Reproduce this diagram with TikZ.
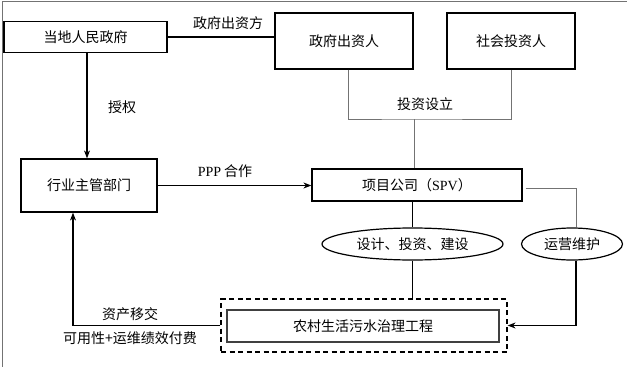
\documentclass[tikz,border=0pt]{standalone}
\usepackage{fontspec}
\setmainfont{Liberation Serif}
\newfontfamily\cjk{Noto Sans CJK SC}
\usetikzlibrary{arrows.meta,calc,shapes.geometric}
\begin{document}
\begin{tikzpicture}[x=1pt,y=-1pt,
  every node/.style={font=\cjk\fontsize{14pt}{16pt}\selectfont, inner sep=0pt},
  box/.style={draw=black, line width=1.2pt, rectangle},
  blk/.style={draw=black, line width=1.2pt},
  gry/.style={draw=black!55, line width=0.9pt},
  arr/.style={-{Stealth[length=8pt,width=6pt]}}]
\useasboundingbox (0,0) rectangle (627,367);
% frame remnants
\draw[black!55, line width=1pt] (2,367) -- (2,1.5) -- (627,1.5);
% nodes
\node[box, minimum width=163pt, minimum height=31pt] (gov) at (85.5,37) {当地人民政府};
\node[box, minimum width=138pt, minimum height=56pt] (govinv) at (344,41) {政府出资人};
\node[box, minimum width=128pt, minimum height=56pt] (social) at (511,41) {社会投资人};
\node[box, minimum width=136pt, minimum height=53pt] (dept) at (89,185.5) {行业主管部门};
\node[box, minimum width=210pt, minimum height=32pt] (spv) at (417,185) {项目公司（{\rmfamily SPV}）};
\node[draw=black, line width=1.2pt, ellipse, minimum width=181pt, minimum height=32pt] (e1) at (412.5,244) {设计、投资、建设};
\node[draw=black, line width=1.2pt, ellipse, minimum width=101pt, minimum height=32pt] (e2) at (572,244) {运营维护};
\node[draw=black, line width=1.2pt, dash pattern=on 5pt off 3.5pt, minimum width=286pt, minimum height=53pt] (dbox) at (364,325.5) {};
\node[draw=black!75, line width=1.1pt, minimum width=272pt, minimum height=32pt] (proj) at (363,326) {农村生活污水治理工程};
% labels
\node (l1) at (228,23) {政府出资方};
\node (l2) at (425,104) {投资设立};
\node (l3) at (122,107) {授权};
\node (l4) at (225,171) {{\rmfamily PPP} 合作};
\node (l5) at (130,314) {资产移交};
\node (l6) at (130,338) {可用性+运维绩效付费};
% connectors
\draw[blk] (gov.east) -- (gov.east -| govinv.west);
\coordinate (j) at (414,119);
\draw[gry] ([xshift=4pt]govinv.south) |- (j) -| (social.south);
\draw[gry] (j) -- (j |- spv.north);
\draw[blk, arr] (gov.south -| 87,0) -- (dept.north -| 87,0);
\draw[blk, arr] (dept.east) -- (dept.east -| spv.west);
\draw[gry] ([xshift=3pt,yshift=-3pt]spv.east) -| (e2.north -| 576,0);
\draw[blk] (spv.south -| e1.north) -- (e1.north);
\draw[blk] (e1.south) -- (e1.south |- dbox.north);
\draw[blk, arr] (e2.south -| 576,0) |- (dbox.east);
\draw[blk, arr] (dbox.west) -| (dept.south -| 73,0);
\end{tikzpicture}
\end{document}
